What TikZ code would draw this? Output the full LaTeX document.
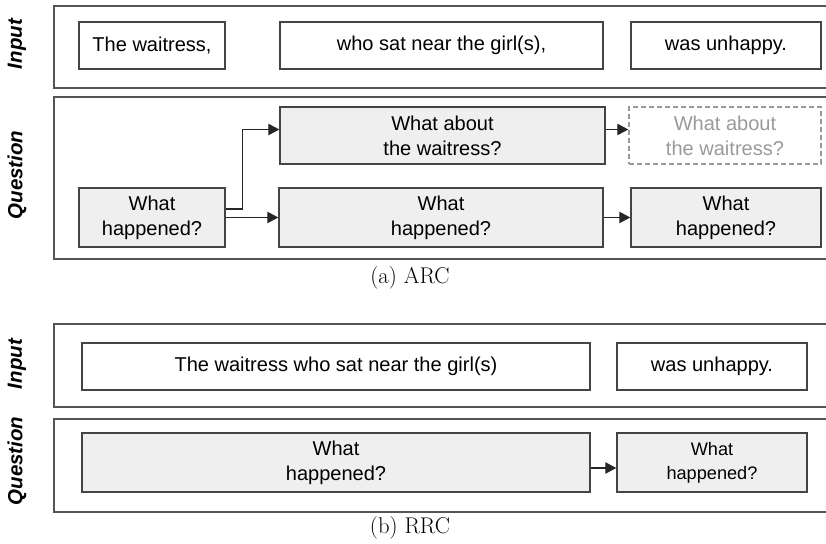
\documentclass[tikz,border=0pt]{standalone}
\usepackage{fontspec}
\newfontfamily\arialfont{Liberation Sans}
\usepackage{tikz}
\usetikzlibrary{positioning, arrows.meta}

\definecolor{boxline}{HTML}{444444}
\definecolor{frameline}{HTML}{555555}
\definecolor{qfill}{HTML}{EFEFEF}
\definecolor{ghost}{HTML}{9A9A9A}

\begin{document}
\begin{tikzpicture}[x=0.03cm, y=-0.03cm,
    txt/.style={draw=boxline, line width=0.04cm, inner sep=0pt, align=center,
        font=\arialfont\fontsize{17.1}{21.3}\selectfont},
    inbox/.style={txt, minimum height=1.41cm},
    qbox/.style={txt, fill=qfill, minimum height=1.77cm},
    frame/.style={draw=frameline, line width=0.045cm},
    side/.style={rotate=90, font=\arialfont\bfseries\itshape\fontsize{17.5}{20}\selectfont},
    arr/.style={-{Triangle[length=0.33cm, width=0.34cm]}, line width=0.04cm, black!85},
    captext/.style={font=\fontsize{19.4}{22}\selectfont}]
    \useasboundingbox (0,0) rectangle (826,544);

    % (a) ARC
    \draw[frame] (54,6) rectangle (830,88);
    \draw[frame] (54,97) rectangle (830,259);
    \node[side] (labInA) at (17,44) {Input};
    \node[side] (labQA) at (17,175) {Question};

    \node[inbox, minimum width=4.38cm] (inA1) at (152,45.5) {The waitress,};
    \node[inbox, minimum width=9.69cm] (inA2) at (441.5,45.5) {who sat near the girl(s),};
    \node[inbox, minimum width=5.7cm] (inA3) at (726,45.5) {was unhappy.};

    \node[qbox, minimum width=9.75cm, minimum height=1.71cm] (about1) at (442.5,135.5) {What about\\the waitress?};
    \node[txt, minimum width=5.76cm, minimum height=1.71cm, draw=ghost, dashed, dash pattern=on 0.15cm off 0.09cm, text=ghost] (about2) at (725,135.5) {What about\\the waitress?};
    \node[qbox, minimum width=4.38cm] (whatA0) at (152,217.5) {What\\happened?};
    \node[qbox, minimum width=9.72cm] (whatA1) at (441,217.5) {What\\happened?};
    \node[qbox, minimum width=5.7cm] (whatA2) at (726,217.5) {What\\happened?};

    \draw[arr] ([yshift=0.255cm]whatA0.east) -- ++(17,0) |- ([yshift=0.18cm]about1.west);
    \draw[arr] (whatA0.east) -- (whatA1.west);
    \draw[arr] ([yshift=0.18cm]about1.east) -- ([yshift=0.18cm]about2.west);
    \draw[arr] (whatA1.east) -- (whatA2.west);

    \node[captext] (capA) at (410,278) {(a) ARC};

    % (b) RRC
    \draw[frame] (54,324) rectangle (830,407);
    \draw[frame] (54,419) rectangle (830,512);
    \node[side] (labInB) at (17,364) {Input};
    \node[side] (labQB) at (17,461) {Question};

    \node[inbox, minimum width=15.24cm] (inB1) at (336,366.5) {The waitress who sat near the girl(s)};
    \node[inbox, minimum width=5.7cm] (inB2) at (712,366.5) {was unhappy.};
    \node[qbox, minimum width=15.24cm] (whatB1) at (336,462.5) {What\\happened?};
    \node[qbox, minimum width=5.7cm, font=\arialfont\fontsize{15.5}{20.5}\selectfont] (whatB2) at (712,462.5) {What\\happened?};

    \draw[arr] ([yshift=-0.165cm]whatB1.east) -- ([yshift=-0.165cm]whatB2.west);

    \node[captext] (capB) at (410,528) {(b) RRC};
\end{tikzpicture}
\end{document}
